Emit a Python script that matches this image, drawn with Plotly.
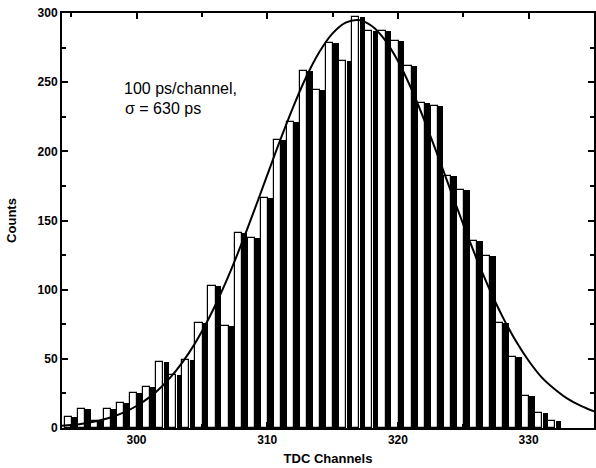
import plotly.graph_objects as go

# Histogram data
channels = list(range(295, 333))
counts = [8, 14, 5, 14, 18, 25, 30, 48, 38, 49,
          76, 103, 74, 141, 137, 166, 208, 221, 258, 244,
          278, 265, 297, 287, 287, 280, 262, 235, 233, 182,
          172, 135, 124, 76, 51, 23, 11, 5]

# Fitted curve, values read at each channel
curve_x = list(range(294, 336))
curve_y = [1.4, 2.2, 3.3, 5.1, 7.6, 11.1, 15.9, 22.3, 30.6, 41.1,
           54.1, 69.8, 88.2, 109.1, 132.3, 157.1, 182.8, 208.3, 232.4, 254.1,
           272.0, 285.3, 293.1, 294.9, 290.6, 280.6, 265.3, 245.8, 223.0, 198.2,
           172.5, 147.1, 122.8, 100.5, 80.5, 63.2, 48.6, 36.6, 28.0, 21.0,
           16.0, 12.0]

x_ticks = [300, 310, 320, 330]
y_ticks = [0, 50, 100, 150, 200, 250, 300]

white_x = [c - 0.225 for c in channels]
black_x = [c + 0.275 for c in channels]

FONT = "Liberation Sans, Arial, sans-serif"

fig = go.Figure()
fig.add_trace(go.Bar(x=white_x, y=counts, width=[0.55] * len(channels),
                     marker=dict(color="white", line=dict(color="black", width=1.2)),
                     showlegend=False))
fig.add_trace(go.Bar(x=black_x, y=counts, width=[0.42] * len(channels),
                     marker=dict(color="black", line=dict(color="black", width=0)),
                     showlegend=False))
fig.add_trace(go.Scatter(x=curve_x, y=curve_y, mode="lines",
                         line=dict(color="black", width=2, shape="spline"),
                         showlegend=False))

fig.update_layout(
    width=596, height=468,
    margin=dict(l=62, r=2, t=13, b=40),
    paper_bgcolor="white", plot_bgcolor="white",
    barmode="overlay", bargap=0,
    font=dict(family=FONT, color="black"),
    xaxis=dict(range=[294.3, 335], tickvals=x_ticks, ticktext=[str(v) for v in x_ticks],
               automargin=False,
               showgrid=False, zeroline=False, showline=True, linecolor="black", linewidth=2,
               mirror="ticks", ticks="inside", ticklen=6, tickwidth=2, tickcolor="black",
               minor=dict(dtick=5, tick0=300, ticks="inside", ticklen=4, tickwidth=1.5, tickcolor="black"),
               tickfont=dict(family=FONT, size=12, color="black", weight="bold"),
               title=dict(text="<b>TDC Channels</b>", font=dict(size=13), standoff=7)),
    yaxis=dict(range=[0, 300], tickvals=y_ticks, ticktext=[str(v) for v in y_ticks],
               automargin=False,
               showgrid=False, zeroline=False, showline=True, linecolor="black", linewidth=2,
               mirror="ticks", ticks="inside", ticklen=6, tickwidth=2, tickcolor="black",
               minor=dict(dtick=25, tick0=0, ticks="inside", ticklen=4, tickwidth=1.5, tickcolor="black"),
               tickfont=dict(family=FONT, size=12, color="black", weight="bold"),
               title=dict(text="<b>Counts</b>", font=dict(size=13), standoff=18)),
    annotations=[
        dict(text="100 ps/channel,", xref="paper", yref="paper", x=0.112, y=0.819,
             xanchor="left", yanchor="middle", showarrow=False,
             font=dict(size=16, family=FONT, color="black")),
        dict(text="σ = 630 ps", xref="paper", yref="paper", x=0.114, y=0.771,
             xanchor="left", yanchor="middle", showarrow=False,
             font=dict(size=16, family=FONT, color="black")),
    ],
)

fig.write_html("out.html", config={"displayModeBar": False},
               post_script="document.body.style.margin='0';")
